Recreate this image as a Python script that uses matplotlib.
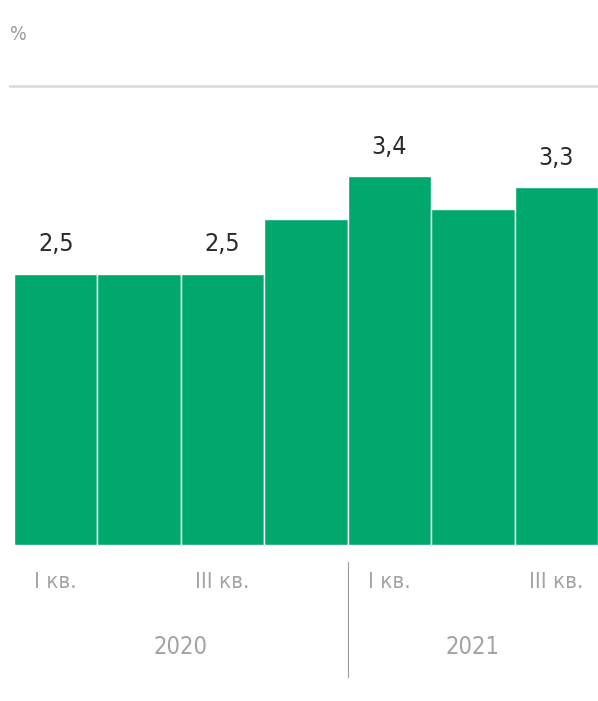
import matplotlib
matplotlib.use("Agg")
import matplotlib.pyplot as plt

quarters = ["I кв.", "II кв.", "III кв.", "IV кв.", "I кв.", "II кв.", "III кв."]
values = [2.5, 2.5, 2.5, 3.0, 3.4, 3.1, 3.3]
labeled = [True, False, True, False, True, False, True]
tick_text = ["I кв.", "", "III кв.", "", "I кв.", "", "III кв."]
years = ["2020", "2021"]
unit = "%"

plt.rcParams['font.family'] = ['DejaVu Sans']
plt.rcParams['font.stretch'] = 'condensed'

W, H = 598, 701
fig = plt.figure(figsize=(W/100, H/100), dpi=100)
ax = fig.add_axes([14/W, 1-545/H, 1-14/W, (545-100)/H])
x = list(range(len(values)))
ax.bar(x, values, width=1.0, color="#00a86b", edgecolor="white", linewidth=1.0)
ax.set_xlim(-0.5, len(values)-0.5)
ax.set_ylim(0, (545-100)/108.5)
ax.axis("off")
kw = dict(fontstretch='condensed', fontweight='light')
for xi, v, lab in zip(x, values, labeled):
    if lab:
        ax.text(xi, v+0.16, f"{v:.1f}".replace(".", ","), ha="center", va="bottom",
                fontsize=18, color="#2a2a2a", **kw)
for xi, t in zip(x, tick_text):
    if t:
        ax.text(xi, -0.34, t, ha="center", va="center", fontsize=16, color="#a3a3a3", **kw)
ax.text(1.5, -0.94, years[0], ha="center", va="center", fontsize=17, color="#a3a3a3", **kw)
ax.text(5.0, -0.94, years[1], ha="center", va="center", fontsize=17, color="#a3a3a3", **kw)
ax.plot([3.5, 3.5], [-0.157, -1.217], color="#9a9a9a", lw=0.8, clip_on=False)

fig.text(10/W, 1-35/H, unit, fontsize=14, color="#9a9a9a", va="center", ha="left", **kw)
fig.add_artist(plt.Line2D([10/W, 1.0], [1-86/H, 1-86/H], color="#dddddd", lw=2))

fig.savefig("out.png", dpi=100, facecolor="white")
